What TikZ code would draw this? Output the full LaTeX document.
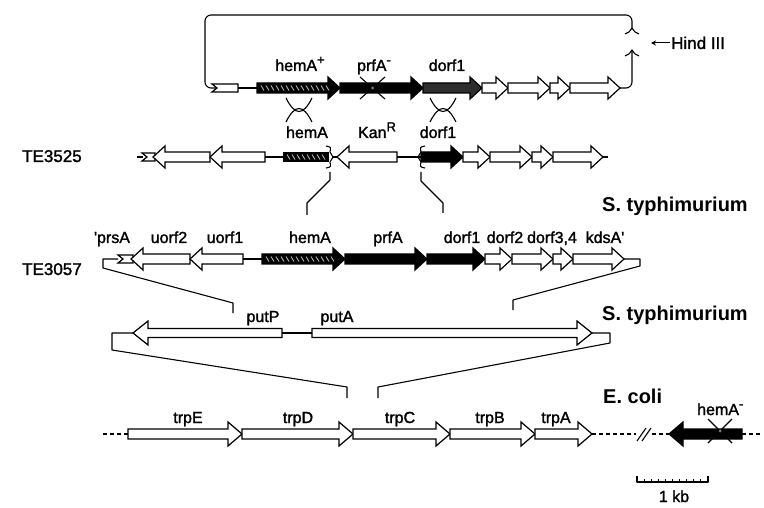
\documentclass[tikz,border=0pt]{standalone}
\usepackage{fontspec}
\setmainfont{Liberation Sans}
\newfontface\labfont{Liberation Sans}[FakeBold=1.6]
\usetikzlibrary{arrows.meta}
\def\bh{5}\def\hh{11}\def\hl{12}
\newcommand{\gR}[4][]{\draw[gene,#1] ({#2},{#4-\bh}) -- ({#3-\hl},{#4-\bh}) -- ({#3-\hl},{#4-\hh}) -- ({#3},{#4}) -- ({#3-\hl},{#4+\hh}) -- ({#3-\hl},{#4+\bh}) -- ({#2},{#4+\bh}) -- cycle;}
\newcommand{\gL}[4][]{\draw[gene,#1] ({#3},{#4-\bh}) -- ({#2+\hl},{#4-\bh}) -- ({#2+\hl},{#4-\hh}) -- ({#2},{#4}) -- ({#2+\hl},{#4+\hh}) -- ({#2+\hl},{#4+\bh}) -- ({#3},{#4+\bh}) -- cycle;}
\newcommand{\hatchrow}[3]{\foreach \i in {1,...,#2}{\draw[hatchline] ({#1+5*\i-1},{#3-2.5}) -- ({#1+5*\i+2},{#3+2.5});}}
\newcommand{\swallow}[3]{\draw[gene] ({#1},{#3-4}) -- ({#2},{#3-4}) -- ({#2},{#3+4}) -- ({#1},{#3+4}) -- ({#1+5},{#3}) -- cycle;}
\newcommand{\xover}[2]{%
  \draw[xmark] ({#1-13},{#2-12}) .. controls ({#1-4},{#2+6}) and ({#1+4},{#2+6}) .. ({#1+13},{#2-12});
  \draw[xmark] ({#1-13},{#2+12}) .. controls ({#1-4},{#2-6}) and ({#1+4},{#2-6}) .. ({#1+13},{#2+12});}
\newcommand{\supx}[1]{\raisebox{0.42em}{\fontsize{13}{13}\selectfont #1}}
\begin{document}
\begin{tikzpicture}[x=1pt,y=-1pt,
  gene/.style={draw=black,line width=1.2pt,fill=white,line join=miter},
  solid/.style={fill=black},
  dark/.style={fill=black!82},
  hatchline/.style={draw=white!75!black,line width=0.8pt},
  conn/.style={line width=1.1pt,line join=round},
  dashline/.style={line width=1.1pt,dash pattern=on 4pt off 3pt},
  xmark/.style={line width=1.1pt},
  lab/.style={font=\labfont\fontsize{16}{18}\selectfont, anchor=base, inner sep=0pt},
  labw/.style={font=\labfont\fontsize{16}{18}\selectfont, anchor=base west, inner sep=0pt},
  sp/.style={font=\fontsize{20}{22}\selectfont\bfseries, anchor=base west, inner sep=0pt},
  te/.style={font=\labfont\fontsize{17}{19}\selectfont, anchor=base west, inner sep=0pt},
]
\useasboundingbox (0,0) rectangle (764,508);

% ---------- plasmid (top row, y=88)
\draw[conn,rounded corners=6pt] (217,88) -- (205,88) -- (205,15) -- (632,15) -- (632,28);
\draw[conn] (625,34) .. controls (628,33) and (631,31) .. (632,28) .. controls (633,31) and (636,33) .. (639,34);
\draw[conn] (625,56) .. controls (628,55) and (631,53) .. (632,50) .. controls (633,53) and (636,55) .. (639,56);
\draw[conn,rounded corners=6pt] (632,50) -- (632,88) -- (620,88);
\swallow{212}{238}{88}
\draw[conn] (238,88) -- (257,88);
\gR[solid]{257}{340}{88}
\hatchrow{257}{14}{88}
\gR[solid]{340}{423}{88}
\gR[dark]{423}{482}{88}
\gR{482}{508}{88}
\gR{508}{550}{88}
\gR{550}{570}{88}
\gR{570}{620}{88}
\draw[xmark] (360,77) -- (385,99);
\draw[xmark] (385,77) -- (360,99);
\fill[gray] (372.5,88) circle (1.5);
\node[lab] (l1) at (300,71) {hemA\supx{+}};
\node[lab] (l2) at (374,71) {prfA\supx{-}};
\node[lab] (l3) at (447,71) {dorf1};
\draw[-{Stealth[length=5pt,width=5pt]},line width=1pt] (670,43) -- (651,43);
\node[font=\labfont\fontsize{17}{19}\selectfont,anchor=base west,inner sep=0pt] (hind) at (671,49) {Hind III};

% crossover marks
\xover{299}{110}
\xover{443}{110}

% ---------- TE3525 (y=157)
\node[te] (te1) at (22,162) {TE3525};
\draw[conn] (137,157) -- (143,157);
\swallow{142}{155}{157}
\gL{153}{210}{157}
\gL{210}{265}{157}
\draw[conn] (265,157) -- (283,157);
\fill (283,152) rectangle (329,162);
\hatchrow{283}{8}{157}
\draw[conn] (326,146) .. controls (331,147) .. (330,152) -- (333,157) -- (330,162) .. controls (331,167) .. (326,168);
\draw[conn] (333,157) -- (337,157);
\gL{337}{397}{157}
\draw[conn] (397,157) -- (421,157);
\gR[solid]{421}{463}{157}
\draw[conn] (425,146) .. controls (420,147) .. (421,152) -- (418,157) -- (421,162) .. controls (420,167) .. (425,168);
\gR{463}{490}{157}
\gR{490}{532}{157}
\gR{532}{553}{157}
\gR{553}{603}{157}
\draw[conn] (603,157) -- (608,157);
\node[lab] (m1) at (307,138) {hemA};
\node[lab] (m2) at (377,138) {Kan\supx{R}};
\node[lab] (m3) at (438,138) {dorf1};
\draw[conn] (330,172) -- (330,180) -- (307,203) -- (307,215);
\draw[conn] (421,172) -- (421,181) -- (443,203) -- (443,213);

\node[sp] (st1) at (602,212) {S. typhimurium};

% ---------- TE3057 (y=259)
\node[te] (te2) at (22,275) {TE3057};
\draw[conn] (118,259) -- (103,259) -- (103,268) -- (233,303) -- (233,313);
\swallow{118}{133}{259}
\gL{131}{190}{259}
\gL{190}{243}{259}
\draw[conn] (243,259) -- (262,259);
\gR[solid]{262}{345}{259}
\hatchrow{262}{14}{259}
\gR[solid]{345}{427}{259}
\gR[solid]{427}{485}{259}
\gR{485}{512}{259}
\gR{512}{553}{259}
\gR{553}{573}{259}
\gR{573}{624}{259}
\draw[conn] (624,259) -- (640,259) -- (640,266) -- (513,300) -- (513,310);
\node[lab] (n1) at (112,243) {'prsA};
\node[lab] (n2) at (169,243) {uorf2};
\node[lab] (n3) at (225,243) {uorf1};
\node[lab] (n4) at (310,243) {hemA};
\node[lab] (n5) at (388,243) {prfA};
\node[lab] (n6) at (462,243) {dorf1};
\node[lab] (n7) at (505,243) {dorf2};
\node[lab] (n8) at (552,243) {dorf3,4};
\node[lab] (n9) at (605,243) {kdsA'};

% ---------- put region (y=333)
\def\bh{4.5}\def\hh{12}\def\hl{15}
\gL{133}{282}{333}
\draw[conn] (282,333) -- (312,333);
\gR{312}{592}{333}
\draw[conn] (133,333) -- (112,333) -- (112,350) -- (347,387) -- (347,398);
\draw[conn] (592,333) -- (610,333) -- (610,343) -- (378,387) -- (378,398);
\node[lab] (p1) at (263,322) {putP};
\node[lab] (p2) at (337,322) {putA};
\node[sp] (st2) at (602,320) {S. typhimurium};

% ---------- E. coli (y=434)
\def\bh{5}\def\hh{12}\def\hl{14}
\draw[dashline] (103,434) -- (128,434);
\gR{128}{242}{434}
\gR{242}{353}{434}
\gR{353}{450}{434}
\gR{450}{535}{434}
\gR{535}{592}{434}
\draw[dashline] (592,434) -- (636,434);
\draw[conn] (637,441) -- (646,428);
\draw[conn] (642,441) -- (651,428);
\draw[dashline] (652,434) -- (669,434);
\gL[solid]{669}{742}{434}
\draw[dashline] (742,434) -- (762,434);
\draw[xmark] (708,419) -- (732,443);
\draw[xmark] (732,419) -- (708,443);
\fill[gray] (720,431) circle (1.5);
\node[lab] (e1) at (188,423) {trpE};
\node[lab] (e2) at (298,423) {trpD};
\node[lab] (e3) at (400,423) {trpC};
\node[lab] (e4) at (490,423) {trpB};
\node[lab] (e5) at (556,423) {trpA};
\node[sp] (ec) at (603,403) {E. coli};
\node[labw] (hm) at (697,415) {hemA\supx{-}};

% ---------- scale bar
\draw[conn] (637,476) -- (637,482) -- (708,482) -- (708,476);
\foreach \i in {1,...,9}{\draw[line width=0.9pt] ({637+7.1*\i},482) -- ++(0,-3);}
\node[lab] (kb) at (674,502) {1 kb};
\end{tikzpicture}
\end{document}
